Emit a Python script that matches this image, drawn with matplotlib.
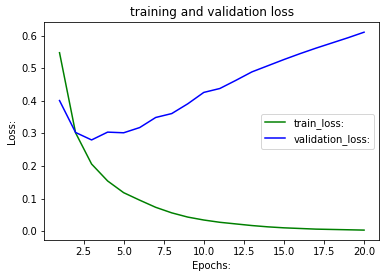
import matplotlib
matplotlib.use("Agg")
import matplotlib.pyplot as plt

epochs = list(range(1, 21))
train_loss = [0.548, 0.302, 0.206, 0.154, 0.118, 0.095, 0.073, 0.056, 0.043, 0.034,
              0.027, 0.022, 0.017, 0.013, 0.010, 0.008, 0.006, 0.005, 0.004, 0.003]
val_loss = [0.401, 0.303, 0.280, 0.304, 0.302, 0.318, 0.349, 0.361, 0.391, 0.426,
            0.438, 0.463, 0.489, 0.508, 0.527, 0.545, 0.562, 0.578, 0.594, 0.611]

fig = plt.figure(figsize=(386 / 72, 278 / 72), dpi=72)
ax = fig.add_axes([44.3 / 386, 1 - 240 / 278, 335 / 386, (240 - 22.3) / 278])
ax.plot(epochs, train_loss, color="g", label="train_loss:")
ax.plot(epochs, val_loss, color="b", label="validation_loss:")
ax.set_title("training and validation loss")
ax.set_xlabel("Epochs:")
ax.set_ylabel("Loss:")
ax.legend(loc="center right")
fig.savefig("out.png", dpi=72)
